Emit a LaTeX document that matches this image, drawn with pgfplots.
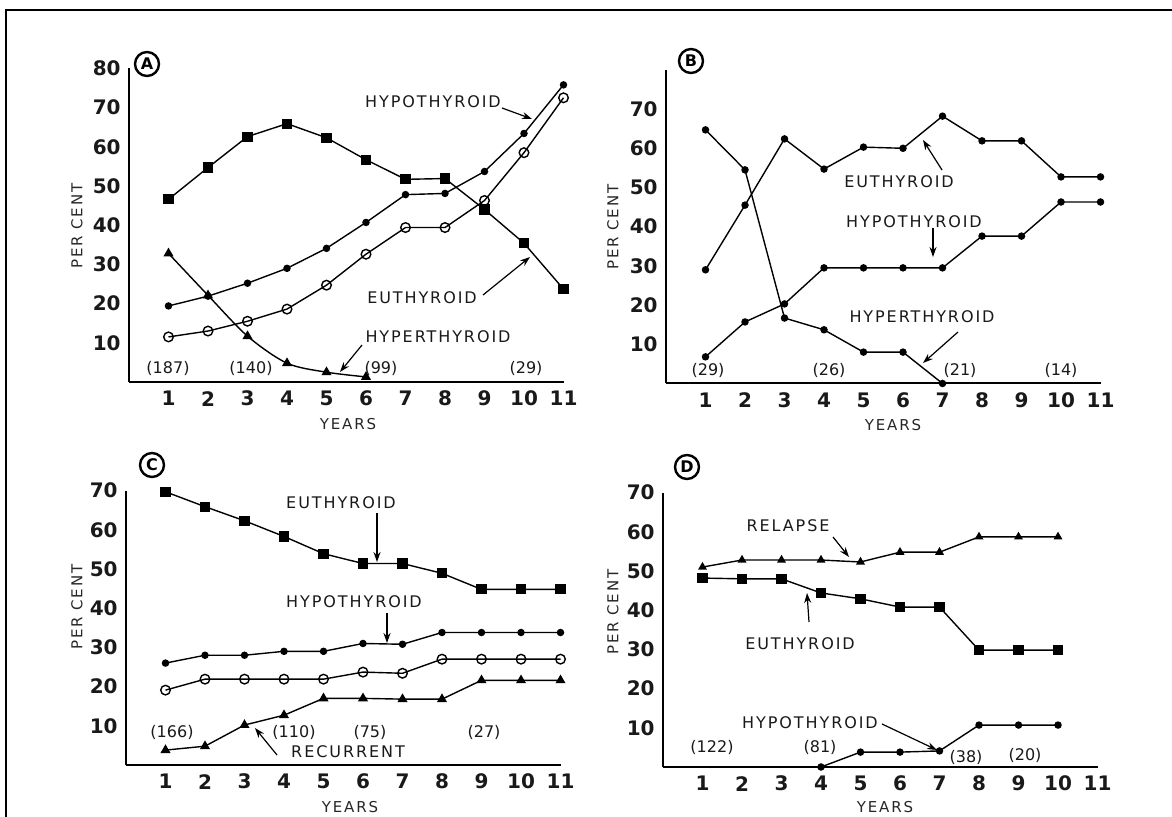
\documentclass[border=0pt]{standalone}
\usepackage{fontspec}
\setmainfont{DejaVu Sans}
\newfontfamily\labfont[LetterSpace=12]{DejaVu Sans}
\usepackage{pgfplots}
\pgfplotsset{compat=1.18}
\usetikzlibrary{arrows.meta}
\pgfplotsset{
  panel/.style={
    anchor=origin, x=19.75pt, y=1.96pt,
    xmin=0, xmax=11, ymin=0,
    axis x line=bottom, axis y line=left,
    axis line style={-, line width=1pt, black},
    xtick={1,2,3,4,5,6,7,8,9,10,11},
    major tick length=0pt,
    tick label style={font=\fontsize{10}{12}\selectfont\bfseries, text=black!90},
    xticklabel style={anchor=center, inner sep=0pt, yshift=-8.3pt},
    yticklabel style={anchor=east, inner sep=0pt, xshift=-4pt},
    /pgf/number format/assume math mode=true,
    clip=false,
    every axis plot/.append style={line width=0.7pt, black},
  },
  sq/.style={mark=square*, mark size=2.2pt},
  dt/.style={mark=*, mark size=1.5pt},
  oc/.style={mark=o, mark size=2.4pt, mark options={fill=white, line width=0.7pt}},
  tr/.style={mark=triangle*, mark size=2.2pt},
}
\tikzset{
  lab/.style={font=\labfont\fontsize{8}{9}\selectfont, text=black!90, inner sep=0pt},
  num/.style={font=\fontsize{8}{9}\selectfont, text=black!90, inner sep=0pt},
  axl/.style={font=\labfont\fontsize{7.5}{9}\selectfont, text=black!85, inner sep=0pt},
  arr/.style={-{Stealth[length=5pt,width=3.5pt]}, line width=0.6pt},
  circ/.style={circle, draw, line width=1.2pt, minimum size=12pt, inner sep=0pt, font=\fontsize{8}{9}\selectfont\bfseries},
}
\begin{document}
\begin{tikzpicture}
\begin{scope}[x=0.5pt, y=-0.5pt]
  \path[use as bounding box] (0,0) rectangle (1172,817);
  \draw[line width=1pt] (6,817) -- (6,10) -- (1172,10);
  \coordinate (oA) at (129,382);
  \coordinate (oB) at (666,383.5);
  \coordinate (oC) at (126,765);
  \coordinate (oD) at (663,767);
  % Panel A texts
  \node[circ] at (147,64) {A};
  \node[axl, rotate=90] at (77,226) {PER CENT};
  \node[axl] at (348,424) {YEARS};
  \node[num] at (168,368) {(187)};
  \node[num] at (251,368) {(140)};
  \node[num] at (381,368) {(99)};
  \node[num] at (526,368) {(29)};
  \node[lab] at (433,102) {HYPOTHYROID};
  \draw[arr] (502,108) -- (532,119);
  \node[lab] at (422,298) {EUTHYROID};
  \draw[arr] (483,295) -- (530,257);
  \node[lab] at (438,337) {HYPERTHYROID};
  \draw[arr] (362,345) -- (340,372);
  % Panel B texts
  \node[circ] at (691,61) {B};
  \node[axl, rotate=90] at (613,227) {PER CENT};
  \node[axl] at (893,425) {YEARS};
  \node[num] at (708,370) {(29)};
  \node[num] at (829,370) {(26)};
  \node[num] at (960,370) {(21)};
  \node[num] at (1061,370) {(14)};
  \node[lab] at (899,182) {EUTHYROID};
  \draw[arr] (942,170) -- (923,140);
  \node[lab] at (914,222) {HYPOTHYROID};
  \draw[arr] (933,228) -- (933,257);
  \node[lab] at (922,317) {HYPERTHYROID};
  \draw[arr] (958,332) -- (923,363);
  % Panel C texts
  \node[circ] at (152,465) {C};
  \node[axl, rotate=90] at (77,607) {PER CENT};
  \node[axl] at (350,807) {YEARS};
  \node[num] at (172,732) {(166)};
  \node[num] at (294,732) {(110)};
  \node[num] at (370,732) {(75)};
  \node[num] at (484,732) {(27)};
  \node[lab] at (341,503) {EUTHYROID};
  \draw[arr] (377,513) -- (377,562);
  \node[lab] at (354,602) {HYPOTHYROID};
  \draw[arr] (387,613) -- (387,643);
  \node[lab] at (348,752) {RECURRENT};
  \draw[arr] (277,755) -- (255,728);
  % Panel D texts
  \node[circ] at (687,467) {D};
  \node[axl, rotate=90] at (613,612) {PER CENT};
  \node[axl] at (885,807) {YEARS};
  \node[num] at (712,747) {(122)};
  \node[num] at (820,747) {(81)};
  \node[num] at (966,757) {(38)};
  \node[num] at (1025,755) {(20)};
  \node[lab] at (788,526) {RELAPSE};
  \draw[arr] (833,537) -- (849,557);
  \node[lab] at (800,644) {EUTHYROID};
  \draw[arr] (809,622) -- (807,593);
  \node[lab] at (810,723) {HYPOTHYROID};
  \draw[arr] (882,724) -- (937,750);
\end{scope}

% Panel A
\begin{axis}[panel, at={(oA)}, ymax=80, ytick={10,20,30,40,50,60,70,80}]
\addplot[dt] coordinates {(1,19.4)(2,21.9)(3,25.2)(4,29)(5,34.1)(6,40.7)(7,47.8)(8,48.1)(9,53.7)(10,63.4)(11,75.8)};
\addplot[sq] coordinates {(1,46.6)(2,54.7)(3,62.6)(4,65.9)(5,62.3)(6,56.7)(7,51.7)(8,51.9)(9,44)(10,35.4)(11,23.7)};
\addplot[oc] coordinates {(1,11.5)(2,13)(3,15.5)(4,18.6)(5,24.7)(6,32.6)(7,39.4)(8,39.4)(9,46.3)(10,58.5)(11,72.5)};
\addplot[tr, smooth] coordinates {(1,32.8)(2,22.1)(3,11.7)(4,4.8)(5,2.5)(6,1.3)};
\end{axis}

% Panel B
\begin{axis}[panel, at={(oB)}, ymax=80, ytick={10,20,30,40,50,60,70}]
\addplot[dt] coordinates {(1,29)(2,45.5)(3,62.4)(4,54.7)(5,60.3)(6,60)(7,68.2)(8,61.9)(9,61.9)(10,52.7)(11,52.7)};
\addplot[dt] coordinates {(1,64.7)(2,54.5)(3,16.7)(4,13.7)(5,8)(6,8)(7,0)};
\addplot[dt] coordinates {(1,6.8)(2,15.7)(3,20.3)(4,29.5)(5,29.5)(6,29.5)(7,29.5)(8,37.6)(9,37.6)(10,46.3)(11,46.3)};
\end{axis}

% Panel C
\begin{axis}[panel, at={(oC)}, ymax=70, ytick={10,20,30,40,50,60,70}]
\addplot[sq] coordinates {(1,69.7)(2,65.9)(3,62.3)(4,58.3)(5,53.9)(6,51.4)(7,51.4)(8,48.9)(9,44.8)(10,44.8)(11,44.8)};
\addplot[dt] coordinates {(1,26)(2,28)(3,28)(4,29)(5,29)(6,31)(7,30.8)(8,33.8)(9,33.8)(10,33.8)(11,33.8)};
\addplot[oc] coordinates {(1,19.1)(2,21.9)(3,21.9)(4,21.9)(5,21.9)(6,23.7)(7,23.4)(8,27)(9,27)(10,27)(11,27)};
\addplot[tr] coordinates {(1,3.8)(2,4.8)(3,10.2)(4,12.7)(5,17)(6,17)(7,16.8)(8,16.8)(9,21.6)(10,21.6)(11,21.6)};
\end{axis}

% Panel D
\begin{axis}[panel, at={(oD)}, ymax=70, ytick={10,20,30,40,50,60,70}]
\addplot[tr, mark size=1.9pt] coordinates {(1,51)(2,52.8)(3,52.8)(4,52.8)(5,52.3)(6,54.8)(7,54.8)(8,58.7)(9,58.7)(10,58.7)};
\addplot[sq] coordinates {(1,48.2)(2,48)(3,48)(4,44.4)(5,42.9)(6,40.8)(7,40.8)(8,29.8)(9,29.8)(10,29.8)};
\addplot[dt] coordinates {(4,0)(5,3.8)(6,3.8)(7,4.1)(8,10.7)(9,10.7)(10,10.7)};
\end{axis}
\end{tikzpicture}
\end{document}
